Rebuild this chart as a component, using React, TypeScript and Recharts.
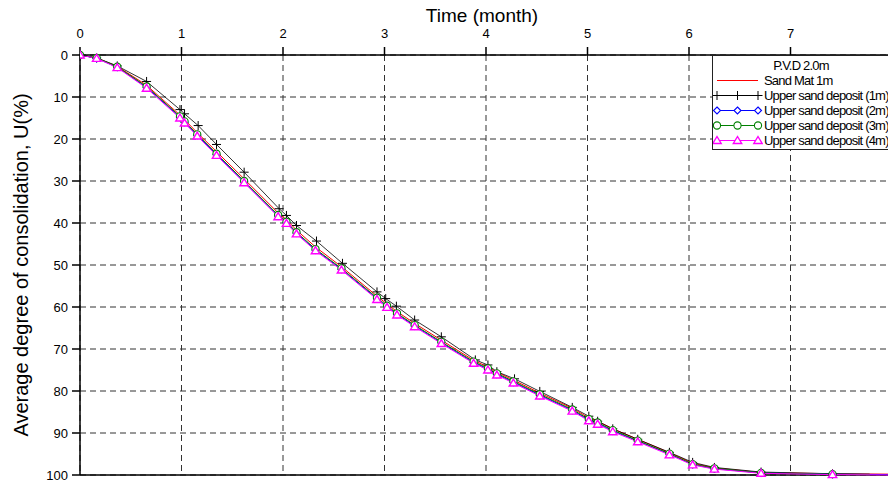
import React from 'react';
import { LineChart, Line, XAxis, YAxis, CartesianGrid, ReferenceLine } from 'recharts';

// Consolidation curves, P.V.D spacing 2.0m. Time in months, U in %.
// The last point of each track is the tail of the line (no marker drawn there).
const X_TICKS = [0, 1, 2, 3, 4, 5, 6, 7, 8];
const Y_TICKS = [0, 10, 20, 30, 40, 50, 60, 70, 80, 90, 100];

const T_1M = [0, 0.164, 0.367, 0.656, 0.985, 1.03, 1.164, 1.345, 1.617, 1.962, 2.034, 2.133, 2.33, 2.586, 2.926, 3.012, 3.117, 3.297, 3.56, 3.895, 4.019, 4.107, 4.281, 4.53, 4.85, 5.013, 5.1, 5.249, 5.495, 5.807, 6.036, 6.25, 6.71, 7.414, 7.78];
const U_1M = [0, 0.7, 2.6, 6.3, 13.0, 14.0, 16.8, 21.3, 27.9, 36.6, 38.2, 40.6, 44.3, 49.6, 56.4, 58.0, 59.8, 63.1, 67.1, 72.6, 73.8, 75.4, 77.1, 80.1, 83.9, 86.0, 87.2, 89.0, 91.5, 94.6, 97.0, 98.2, 99.3, 99.7, 99.8];

const T_STD = [0, 0.164, 0.367, 0.656, 0.985, 1.03, 1.155, 1.345, 1.617, 1.952, 2.034, 2.133, 2.32, 2.576, 2.926, 3.025, 3.123, 3.297, 3.56, 3.878, 4.019, 4.107, 4.27, 4.53, 4.85, 5.013, 5.1, 5.249, 5.495, 5.807, 6.036, 6.25, 6.71, 7.414, 8.0];
const T_3M = [0, 0.164, 0.367, 0.656, 0.985, 1.03, 1.155, 1.345, 1.617, 1.952, 2.034, 2.133, 2.32, 2.576, 2.926, 3.025, 3.123, 3.297, 3.56, 3.878, 4.019, 4.107, 4.27, 4.53, 4.85, 5.013, 5.1, 5.249, 5.495, 5.807, 6.036, 6.25, 6.71, 7.414, 7.78];
const U_MAT = [0, 0.7, 2.7, 7.2, 14.3, 15.4, 18.5, 23.0, 29.5, 37.6, 39.2, 41.7, 45.7, 50.4, 57.4, 59.3, 61.1, 63.9, 67.9, 72.7, 74.3, 75.5, 77.4, 80.5, 84.1, 86.4, 87.2, 89.0, 91.5, 94.7, 97.2, 98.3, 99.4, 99.7, 99.8];
const U_2M = [0, 0.8, 2.9, 7.7, 14.8, 16.0, 19.1, 23.7, 30.2, 38.3, 39.9, 42.4, 46.4, 51.0, 58.0, 59.9, 61.7, 64.5, 68.5, 73.2, 74.8, 76.0, 77.9, 81.0, 84.6, 86.9, 87.7, 89.5, 91.9, 95.0, 97.5, 98.5, 99.5, 99.8, 99.9];
const U_3M = [0, 0.7, 2.8, 7.5, 14.6, 15.8, 18.9, 23.5, 30.0, 38.1, 39.7, 42.2, 46.2, 50.8, 57.8, 59.7, 61.5, 64.3, 68.3, 73.0, 74.6, 75.8, 77.7, 80.8, 84.4, 86.7, 87.5, 89.3, 91.8, 94.9, 97.4, 98.4, 99.5, 99.8, 99.9];
const U_4M = [0, 0.8, 3.0, 7.9, 15.0, 16.2, 19.3, 23.9, 30.4, 38.5, 40.1, 42.6, 46.6, 51.2, 58.2, 60.1, 61.9, 64.7, 68.7, 73.4, 75.0, 76.2, 78.1, 81.2, 84.8, 87.1, 87.9, 89.7, 92.1, 95.2, 97.6, 98.6, 99.6, 99.9, 100];

const FONT = 'Arial, "Liberation Sans", sans-serif';

type Marker = 'none' | 'plus' | 'diamond' | 'circle' | 'triangle';
type Pt = { t: number; u: number };

const toPts = (ts: number[], us: number[]): Pt[] => ts.map((t, i) => ({ t, u: us[i] }));

const SERIES: { key: string; name: string; color: string; width: number; marker: Marker; data: Pt[] }[] = [
  { key: 'mat', name: 'Sand Mat 1m', color: '#ff0000', width: 1, marker: 'none', data: toPts(T_STD, U_MAT) },
  { key: 'u1', name: 'Upper sand deposit (1m)', color: '#000000', width: 0.8, marker: 'plus', data: toPts(T_1M, U_1M) },
  { key: 'u2', name: 'Upper sand deposit (2m)', color: '#0000ff', width: 1, marker: 'diamond', data: toPts(T_STD, U_2M) },
  { key: 'u3', name: 'Upper sand deposit (3m)', color: '#008000', width: 1, marker: 'circle', data: toPts(T_3M, U_3M) },
  { key: 'u4', name: 'Upper sand deposit (4m)', color: '#ff00ff', width: 1, marker: 'triangle', data: toPts(T_STD, U_4M) },
];

function MarkerShape({ kind, cx, cy, color }: { kind: Marker; cx: number; cy: number; color: string }) {
  if (kind === 'plus') {
    return <path d={`M${cx - 4.5},${cy}h9M${cx},${cy - 4.5}v9`} stroke={color} strokeWidth={1} fill="none" />;
  }
  if (kind === 'diamond') {
    return (
      <polygon
        points={`${cx},${cy - 3.5} ${cx + 3.5},${cy} ${cx},${cy + 3.5} ${cx - 3.5},${cy}`}
        fill="#fff"
        stroke={color}
        strokeWidth={1.1}
      />
    );
  }
  if (kind === 'circle') {
    return <circle cx={cx} cy={cy} r={3.6} fill="#fff" stroke={color} strokeWidth={1.1} />;
  }
  if (kind === 'triangle') {
    return (
      <polygon
        points={`${cx},${cy - 4} ${cx + 4.2},${cy + 3} ${cx - 4.2},${cy + 3}`}
        fill="#fff"
        stroke={color}
        strokeWidth={1.4}
      />
    );
  }
  return null;
}

function makeDot(kind: Marker, color: string, last: number) {
  if (kind === 'none') return false;
  return (p: any) => {
    const k = `d-${p.index}`;
    if (p.index === last || p.cx == null || p.cy == null) return <g key={k} />;
    return (
      <g key={k}>
        <MarkerShape kind={kind} cx={p.cx} cy={p.cy} color={color} />
      </g>
    );
  };
}

function LegendBox() {
  return (
    <div
      style={{
        position: 'absolute',
        left: 712,
        top: 55,
        width: 178,
        height: 95,
        boxSizing: 'border-box',
        border: '1px solid #222',
        background: '#fff',
        fontFamily: FONT,
        fontSize: 13,
        letterSpacing: -0.8,
        color: '#000',
        paddingTop: 2,
        whiteSpace: 'nowrap',
      }}
    >
      <div style={{ height: 15, lineHeight: '15px', textAlign: 'center' }}>P.V.D 2.0m</div>
      {SERIES.map((s) => (
        <div key={s.key} style={{ height: 15, display: 'flex', alignItems: 'center' }}>
          <svg width={50} height={15} style={{ display: 'block', flex: 'none' }}>
            <line x1={4} x2={45} y1={7.5} y2={7.5} stroke={s.color} strokeWidth={1} />
            {[4, 24.5, 45].map((x) => (
              <MarkerShape key={x} kind={s.marker} cx={x} cy={7.5} color={s.color} />
            ))}
          </svg>
          <span style={{ marginLeft: 1, lineHeight: '15px' }}>{s.name}</span>
        </div>
      ))}
    </div>
  );
}

export default function App() {
  return (
    <div
      style={{
        position: 'absolute',
        left: 0,
        top: 0,
        width: 888,
        height: 483,
        overflow: 'hidden',
        background: '#fff',
        fontFamily: FONT,
      }}
    >
      <LineChart width={900} height={483} margin={{ top: 0, right: 8, bottom: 8, left: 0 }}>
        <CartesianGrid stroke="#333" strokeDasharray="6 4" strokeWidth={1} />
        <XAxis
          dataKey="t"
          type="number"
          orientation="top"
          domain={[0, 8]}
          ticks={X_TICKS}
          height={55}
          allowDataOverflow
          stroke="#000"
          strokeWidth={1.5}
          tickSize={8}
          tickMargin={9}
          tick={{ fill: '#000', fontSize: 13, fontFamily: FONT }}
          label={{
            value: 'Time (month)',
            position: 'insideTop',
            offset: 9,
            dx: -4,
            style: { fontSize: 19, fill: '#000', fontFamily: FONT },
          }}
        />
        <YAxis
          dataKey="u"
          type="number"
          reversed
          domain={[0, 100]}
          ticks={Y_TICKS}
          width={80}
          stroke="#000"
          strokeWidth={1.5}
          tickSize={8}
          tickMargin={4}
          tick={{ fill: '#000', fontSize: 13, fontFamily: FONT }}
          label={{
            value: 'Average degree of consolidation, U(%)',
            angle: -90,
            position: 'insideLeft',
            offset: 21,
            style: { textAnchor: 'middle', fontSize: 20, fill: '#000', fontFamily: FONT },
          }}
        />
        <ReferenceLine y={100} stroke="#000" strokeWidth={1.5} />
        {SERIES.map((s) => (
          <Line
            key={s.key}
            data={s.data}
            dataKey="u"
            name={s.name}
            type="linear"
            stroke={s.color}
            strokeWidth={s.width}
            dot={makeDot(s.marker, s.color, s.data.length - 1)}
            activeDot={false}
            isAnimationActive={false}
          />
        ))}
      </LineChart>
      <LegendBox />
    </div>
  );
}
